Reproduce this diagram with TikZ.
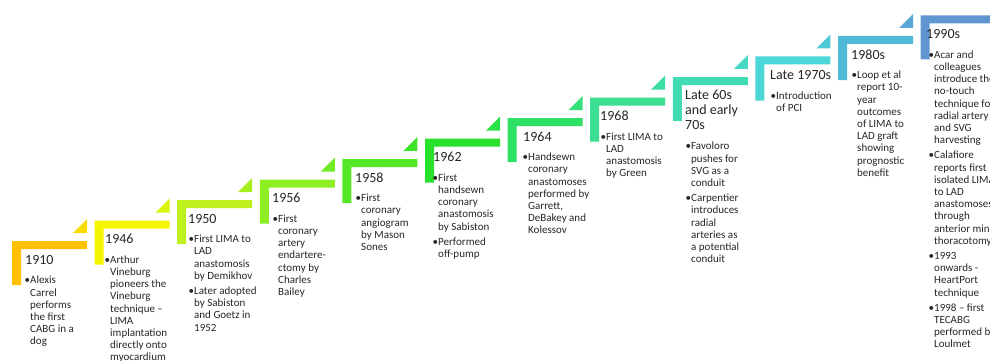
\documentclass[tikz,border=0pt]{standalone}
\usepackage{fontspec}
\setmainfont{Carlito}
\usetikzlibrary{calc}
\usetikzlibrary{positioning}

\definecolor{c0}{RGB}{255,192,0}
\definecolor{c1}{RGB}{245,245,0}
\definecolor{c2}{RGB}{190,240,30}
\definecolor{c3}{RGB}{140,238,35}
\definecolor{c4}{RGB}{85,232,40}
\definecolor{c5}{RGB}{40,225,45}
\definecolor{c6}{RGB}{45,225,100}
\definecolor{c7}{RGB}{60,222,145}
\definecolor{c8}{RGB}{65,220,180}
\definecolor{c9}{RGB}{75,215,215}
\definecolor{c10}{RGB}{80,185,215}
\definecolor{c11}{RGB}{95,150,210}

\begin{document}
\begin{tikzpicture}[x=1pt, y=-1pt,
    year/.style={anchor=north west, inner sep=0, align=left, text=black!85,
        font=\fontsize{14}{15}\selectfont, yshift=10.5pt,
        execute at begin node=\strut},
    facts/.style={anchor=north west, inner sep=0, align=left, text=black!85,
        font=\fontsize{11}{12.2}\selectfont, yshift=8.54pt,
        execute at begin node=\strut}]
    \clip (0,0) rectangle (990,361);
    % steps
    \foreach \i in {0,...,11} {
        \pgfmathsetmacro{\L}{12+82.6*\i}
        \pgfmathsetmacro{\T}{241-20.5*\i}
        \coordinate (s\i) at (\L,\T);
        \fill[c\i] (s\i) -- ++(75,0) -- ++(0,8) -- ++(-66,0) -- ++(0,36) -- ++(-9,0) -- cycle;
    }
    % little triangles between the steps
    \foreach \i [evaluate=\i as \j using int(\i+1)] in {0,...,10} {
        \fill[c\i!50!c\j] ($(s\i)+(61,-8)$) -- ++(14,0) -- ++(0,-14) -- cycle;
    }
    % texts (at the baseline of their first line)
    \node[year] (y1910) at (25,264) {1910};
    \node[facts] (f1910) at (30,284.5) {\llap{\textbullet}Alexis\\Carrel\\performs\\the first\\CABG in a\\dog};
    \node[year] (y1946) at (105,243.5) {1946};
    \node[facts] (f1946) at (110,264) {\llap{\textbullet}Arthur\\Vineburg\\pioneers the\\Vineburg\\technique --\\LIMA\\implantation\\directly onto\\myocardium};
    \node[year] (y1950) at (188,223) {1950};
    \node[facts] (f1950) at (194,243.5) {\llap{\textbullet}First LIMA to\\LAD\\anastomosis\\by Demikhov\\[3pt]\llap{\textbullet}Later adopted\\by Sabiston\\and Goetz in\\1952};
    \node[year] (y1956) at (272,202.5) {1956};
    \node[facts] (f1956) at (278,223) {\llap{\textbullet}First\\coronary\\artery\\endartere-\\ctomy by\\Charles\\Bailey};
    \node[year] (y1958) at (355,182) {1958};
    \node[facts] (f1958) at (361,202.5) {\llap{\textbullet}First\\coronary\\angiogram\\by Mason\\Sones};
    \node[year] (y1962) at (433,161.5) {1962};
    \node[facts] (f1962) at (438,182) {\llap{\textbullet}First\\handsewn\\coronary\\anastomosis\\by Sabiston\\[3pt]\llap{\textbullet}Performed\\off-pump};
    \node[year] (y1964) at (523,141) {1964};
    \node[facts] (f1964) at (528,161.5) {\llap{\textbullet}Handsewn\\coronary\\anastomoses\\performed by\\Garrett,\\DeBakey and\\Kolessov};
    \node[year] (y1968) at (600,120.5) {1968};
    \node[facts] (f1968) at (606,141) {\llap{\textbullet}First LIMA to\\LAD\\anastomosis\\by Green};
    \node[year] (y60s) at (685,100) {Late 60s\\and early\\70s};
    \node[facts] (f60s) at (691,150.5) {\llap{\textbullet}Favoloro\\pushes for\\SVG as a\\conduit\\[3pt]\llap{\textbullet}Carpentier\\introduces\\radial\\arteries as\\a potential\\conduit};
    \node[year] (y1970s) at (770,79.5) {Late 1970s};
    \node[facts] (f1970s) at (776,100) {\llap{\textbullet}Introduction\\of PCI};
    \node[year] (y1980s) at (851,59) {1980s};
    \node[facts] (f1980s) at (857,79.5) {\llap{\textbullet}Loop et al\\report 10-\\year\\outcomes\\of LIMA to\\LAD graft\\showing\\prognostic\\benefit};
    \node[year] (y1990s) at (926,38.5) {1990s};
    \node[facts] (f1990s) at (934,59) {\llap{\textbullet}Acar and\\colleagues\\introduce the\\no-touch\\technique for\\radial artery\\and SVG\\harvesting\\[3pt]\llap{\textbullet}Calafiore\\reports first\\isolated LIMA\\to LAD\\anastomoses\\through\\anterior mini\\thoracotomy\\[3pt]\llap{\textbullet}1993\\onwards -\\HeartPort\\technique\\[3pt]\llap{\textbullet}1998 -- first\\TECABG\\performed by\\Loulmet};
\end{tikzpicture}
\end{document}
